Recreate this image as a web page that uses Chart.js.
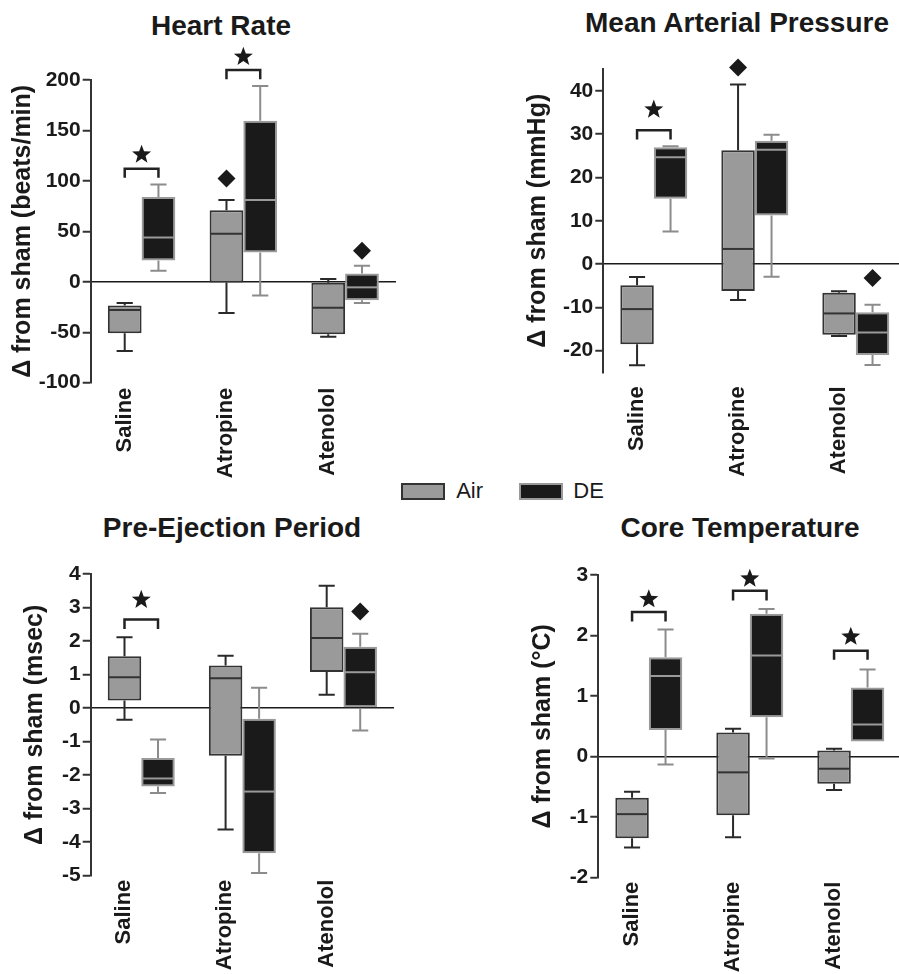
<!DOCTYPE html>
<html>
<head>
<meta charset="utf-8">
<script src="https://cdn.jsdelivr.net/npm/chart.js@4.4.1/dist/chart.umd.min.js"></script>
<style>
  body { margin: 0; background: #fff; overflow: hidden; width: 899px; height: 974px; position: relative; }
  canvas { position: absolute; }
  .head { position: absolute; width: 420px; text-align: center; font: bold 28px "Liberation Sans", Arial, sans-serif; line-height: 28px; color: #1a1a1a; }
  .legend { position: absolute; top: 478px; left: 401px; font: 22px "Liberation Sans", Arial, sans-serif; color: #1a1a1a; line-height: 24px; }
  .legend span { display: inline-block; vertical-align: middle; }
  .sw { width: 40px; height: 13px; border: 2px solid; }
</style>
</head>
<body>

<div class="head" style="left:11px; top:12px">Heart Rate</div>
<div class="head" style="left:527px; top:9px">Mean Arterial Pressure</div>
<div class="head" style="left:22px; top:514px">Pre-Ejection Period</div>
<div class="head" style="left:530px; top:514px">Core Temperature</div>

<div class="legend">
  <span class="sw" style="background:#9a9a9a; border-color:#333"></span>
  <span style="margin-left:5px">Air</span>
  <span class="sw" style="background:#1a1a1a; border-color:#9a9a9a; margin-left:30px"></span>
  <span style="margin-left:4px">DE</span>
</div>

<canvas id="hr" width="450" height="490" style="left:0; top:0"></canvas>
<canvas id="map" width="470" height="490" style="left:450px; top:0"></canvas>
<canvas id="pep" width="450" height="474" style="left:0; top:500px"></canvas>
<canvas id="temp" width="470" height="474" style="left:450px; top:500px"></canvas>

<script>
const categories = ['Saline', 'Atropine', 'Atenolol'];
const seriesNames = ['Air', 'DE'];

// each box: [min, q1, median, q3, max]
const hrAir = [[-68.6, -51, -28, -23.5, -21], [-31, -0.6, 47.5, 71, 81], [-54.5, -52, -25.7, -1, 2.7]];
const hrDE = [[11, 21, 44, 84, 96.4], [-13.5, 29, 81, 159.5, 194], [-21, -18.4, -5.5, 8.3, 16]];
const hrTicks = [-100, -50, 0, 50, 100, 150, 200];

const mapAir = [[-23.4, -18.5, -10.4, -4.9, -3.0], [-8.3, -6.2, 3.5, 26.3, 41.5], [-16.6, -16.3, -11.4, -6.6, -6.3]];
const mapDE = [[7.5, 15.1, 24.7, 27.0, 27.2], [-2.9, 11.2, 26.4, 28.5, 29.9], [-23.3, -21.0, -15.8, -11.1, -9.4]];
const mapTicks = [-20, -10, 0, 10, 20, 30, 40];

const pepAir = [[-0.35, 0.23, 0.92, 1.55, 2.11], [-3.62, -1.42, 0.89, 1.27, 1.56], [0.40, 1.08, 2.09, 3.01, 3.65]];
const pepDE = [[-2.53, -2.34, -2.10, -1.49, -0.94], [-4.92, -4.33, -2.49, -0.32, 0.61], [-0.67, 0, 1.07, 1.83, 2.22]];
const pepTicks = [-5, -4, -3, -2, -1, 0, 1, 2, 3, 4];

const tempAir = [[-1.50, -1.35, -0.95, -0.68, -0.58], [-1.33, -0.97, -0.26, 0.40, 0.46], [-0.55, -0.45, -0.20, 0.10, 0.13]];
const tempDE = [[-0.13, 0.44, 1.33, 1.64, 2.10], [-0.03, 0.65, 1.67, 2.36, 2.44], [0.25, 0.25, 0.53, 1.14, 1.44]];
const tempTicks = [-2, -1, 0, 1, 2, 3];

// significance brackets: [category, bracket y, leg end y, star y]
const hrStars = [[0, 112, 103, 126], [1, 210, 200.7, 223]];
const mapStars = [[0, 30.9, 28.8, 35.7]];
const pepStars = [[0, 2.64, 2.36, 3.23]];
const tempStars = [[0, 2.39, 2.23, 2.60], [1, 2.74, 2.58, 2.94], [2, 1.75, 1.60, 1.98]];

// diamonds: [category, series, y]
const hrDiamonds = [[1, 0, 102.4], [2, 1, 30.7]];
const mapDiamonds = [[1, 0, 45.4], [2, 1, -3.2]];
const pepDiamonds = [[2, 1, 2.88]];
const tempDiamonds = [];

Chart.defaults.font.family = '"Liberation Sans", Arial, sans-serif';
Chart.defaults.color = '#1a1a1a';

const fills = ['#9a9a9a', '#1a1a1a'];
const edges = ['#333333', '#9a9a9a'];
const whiskers = ['#2a2a2a', '#8c8c8c'];

function star(ctx, x, y, r) {
  ctx.beginPath();
  for (let k = 0; k < 10; k++) {
    const rr = k % 2 ? r * 0.42 : r;
    const a = -Math.PI / 2 + k * Math.PI / 5;
    ctx.lineTo(x + rr * Math.cos(a), y + rr * Math.sin(a));
  }
  ctx.closePath();
  ctx.fill();
}

function boxPlugin(stats, stars, diamonds) {
  return {
    id: 'boxes',
    afterDatasetsDraw(chart) {
      const ctx = chart.ctx;
      const y = chart.scales.y;
      ctx.save();
      stats.forEach((rows, di) => {
        const meta = chart.getDatasetMeta(di);
        meta.data.forEach((bar, i) => {
          const [lo, q1, med, q3, hi] = rows[i];
          const x = bar.x, w = bar.width, cap = w * 0.24;
          ctx.strokeStyle = whiskers[di];
          ctx.lineWidth = 2;
          ctx.beginPath();
          if (hi > q3) {
            ctx.moveTo(x, y.getPixelForValue(q3)); ctx.lineTo(x, y.getPixelForValue(hi));
            ctx.moveTo(x - cap, y.getPixelForValue(hi)); ctx.lineTo(x + cap, y.getPixelForValue(hi));
          }
          if (lo < q1) {
            ctx.moveTo(x, y.getPixelForValue(q1)); ctx.lineTo(x, y.getPixelForValue(lo));
            ctx.moveTo(x - cap, y.getPixelForValue(lo)); ctx.lineTo(x + cap, y.getPixelForValue(lo));
          }
          ctx.stroke();
          ctx.strokeStyle = edges[di];
          ctx.beginPath();
          ctx.moveTo(x - w / 2 + 1, y.getPixelForValue(med));
          ctx.lineTo(x + w / 2 - 1, y.getPixelForValue(med));
          ctx.stroke();
        });
      });
      ctx.fillStyle = '#1a1a1a';
      ctx.strokeStyle = '#222';
      ctx.lineWidth = 2.5;
      ctx.lineJoin = 'miter';
      stars.forEach(([c, yb, yl, ys]) => {
        const xa = chart.getDatasetMeta(0).data[c].x;
        const xd = chart.getDatasetMeta(1).data[c].x;
        ctx.beginPath();
        ctx.moveTo(xa, y.getPixelForValue(yl));
        ctx.lineTo(xa, y.getPixelForValue(yb));
        ctx.lineTo(xd, y.getPixelForValue(yb));
        ctx.lineTo(xd, y.getPixelForValue(yl));
        ctx.stroke();
        star(ctx, (xa + xd) / 2, y.getPixelForValue(ys), 10);
      });
      diamonds.forEach(([c, s, v]) => {
        const x = chart.getDatasetMeta(s).data[c].x;
        const py = y.getPixelForValue(v);
        ctx.beginPath();
        ctx.moveTo(x, py - 9); ctx.lineTo(x + 9, py); ctx.lineTo(x, py + 9); ctx.lineTo(x - 9, py);
        ctx.closePath();
        ctx.fill();
      });
      ctx.restore();
    }
  };
}

function makeChart(id, air, de, ticks, min, max, yTitle, stars, diamonds, lay) {
  const stats = [air, de];
  new Chart(document.getElementById(id), {
    type: 'bar',
    data: {
      labels: categories,
      datasets: stats.map((rows, di) => ({
        label: seriesNames[di],
        data: rows.map(r => [r[1], r[3]]),
        backgroundColor: fills[di],
        borderColor: edges[di],
        borderWidth: 2,
        borderSkipped: false,
        categoryPercentage: 0.663,
        barPercentage: 1
      }))
    },
    options: {
      responsive: false,
      animation: false,
      events: [],
      layout: { padding: { left: 0, top: lay.padT, right: lay.padR, bottom: 0 } },
      plugins: { legend: { display: false }, tooltip: { enabled: false } },
      scales: {
        x: {
          offset: true,
          grid: { display: false, drawTicks: false },
          border: { display: false },
          ticks: {
            autoSkip: false, maxRotation: 90, minRotation: 90, labelOffset: -17,
            padding: lay.xPad, color: '#1a1a1a', font: { size: 22, weight: 'bold' }
          },
          afterFit: s => { s.height = lay.xH; }
        },
        y: {
          min: min, max: max,
          afterBuildTicks: s => { s.ticks = ticks.map(v => ({ value: v })); },
          grid: {
            drawOnChartArea: true,
            color: c => (c.tick && c.tick.value === 0 ? '#1a1a1a' : 'rgba(0,0,0,0)'),
            lineWidth: 1.5,
            tickColor: '#333', tickLength: 8, tickWidth: 2
          },
          border: { display: true, color: '#333', width: 2 },
          ticks: { padding: 2, color: '#1a1a1a', font: { size: 21, weight: 'bold' } },
          title: {
            display: true, text: yTitle, color: '#1a1a1a',
            font: { size: 25, weight: 'bold', lineHeight: 1 },
            padding: { top: lay.tPad, bottom: 0 }
          },
          afterFit: s => { s.width = lay.yW; }
        }
      }
    },
    plugins: [boxPlugin(stats, stars, diamonds)]
  });
}

makeChart('hr', hrAir, hrDE, hrTicks, -100, 200, 'Δ from sham (beats/min)', hrStars, hrDiamonds,
  { padT: 80, padR: 54, xH: 107.3, yW: 90.7, tPad: 10.5, xPad: 5 });
makeChart('map', mapAir, mapDE, mapTicks, -25, 45, 'Δ from sham (mmHg)', mapStars, mapDiamonds,
  { padT: 69.3, padR: 13.7, xH: 117.7, yW: 153.3, tPad: 75.5, xPad: 14 });
makeChart('pep', pepAir, pepDE, pepTicks, -5, 4, 'Δ from sham (msec)', pepStars, pepDiamonds,
  { padT: 74, padR: 56, xH: 98.3, yW: 90.7, tPad: 22.5, xPad: 4 });
makeChart('temp', tempAir, tempDE, tempTicks, -2, 3, 'Δ from sham (°C)', tempStars, tempDiamonds,
  { padT: 75, padR: 18.7, xH: 96.3, yW: 148.3, tPad: 80.5, xPad: 4 });
</script>
</body>
</html>
